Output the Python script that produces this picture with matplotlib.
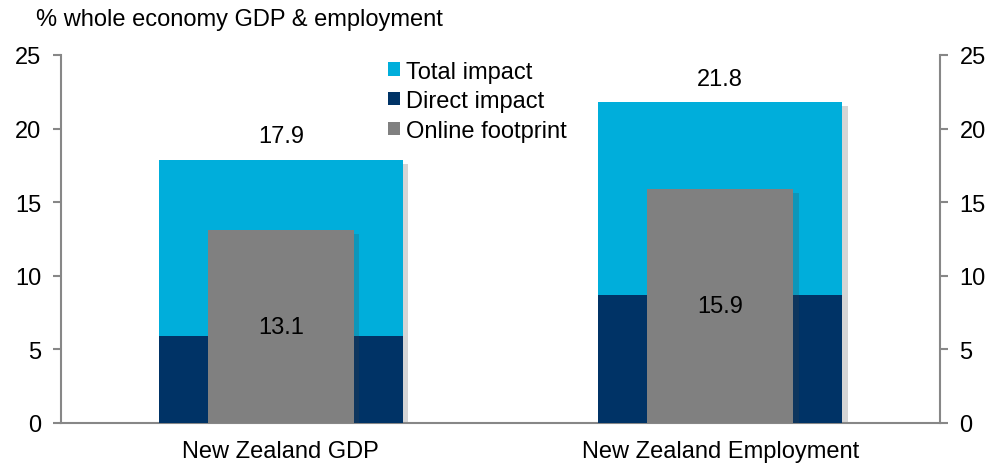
import matplotlib
matplotlib.use("Agg")
from matplotlib import pyplot as plt
from matplotlib import patheffects as pe

plt.rcParams['font.family'] = ['Liberation Sans', 'DejaVu Sans']

# categories and values
categories = ['New Zealand GDP', 'New Zealand Employment']
total_impact = [17.9, 21.8]
direct_impact = [5.9, 8.7]
online_footprint = [13.1, 15.9]
yticks = [0, 5, 10, 15, 20, 25]

c_total = '#00AEDB'
c_direct = '#003366'
c_online = '#808080'
c_axis = '#878787'
fs = 17

fig = plt.figure(figsize=(9.88, 4.64), dpi=100)
ax = fig.add_axes([61 / 988, 1 - 424 / 464, 879 / 988, 368 / 464])

x = list(range(len(categories)))

b1 = ax.bar(x, total_impact, width=0.555, color=c_total, label='Total impact', zorder=2)
b2 = ax.bar(x, direct_impact, width=0.555, color=c_direct, label='Direct impact', zorder=3)
b3 = ax.bar(x, online_footprint, width=0.332, color=c_online, label='Online footprint', zorder=4)

ax.legend(loc='upper left', bbox_to_anchor=(0.372, 0.985), frameon=False, fontsize=fs,
          handlelength=0.5, handleheight=0.5, handletextpad=0.25, labelspacing=0.32,
          borderaxespad=0, borderpad=0)

# soft drop shadow to the right of the bars (added after legend so handles stay plain)
shadow = [pe.SimplePatchShadow(offset=(4, -3), alpha=0.22, shadow_rgbFace='#444444'), pe.Normal()]
for bars in (b1, b3):
    for p in bars:
        p.set_path_effects(shadow)

for i in x:
    ax.text(i, total_impact[i] + 1.6, '%.1f' % total_impact[i], ha='center', va='center',
            fontsize=fs, color='#000000')
    ax.text(i, online_footprint[i] / 2, '%.1f' % online_footprint[i], ha='center', va='center',
            fontsize=fs, color='#000000', zorder=5)

ax.set_xlim(-0.5, 1.5)
ax.set_ylim(0, 25)
ax.set_yticks(yticks)
ax.set_xticks(x)
ax.set_xticklabels(categories, fontsize=fs)
ax.tick_params(axis='x', length=0, pad=12)
ax.tick_params(axis='y', which='both', left=True, right=True, labelleft=True, labelright=True,
               direction='out', length=6, width=1.5, color=c_axis, labelsize=fs, pad=8)

for s in ('left', 'right', 'bottom'):
    ax.spines[s].set_color(c_axis)
    ax.spines[s].set_linewidth(1.5)
ax.spines['top'].set_visible(False)

fig.text(36 / 988, 1 - 20 / 464, '% whole economy GDP & employment', fontsize=fs,
         ha='left', va='center')

fig.savefig('out.png', dpi=100)
